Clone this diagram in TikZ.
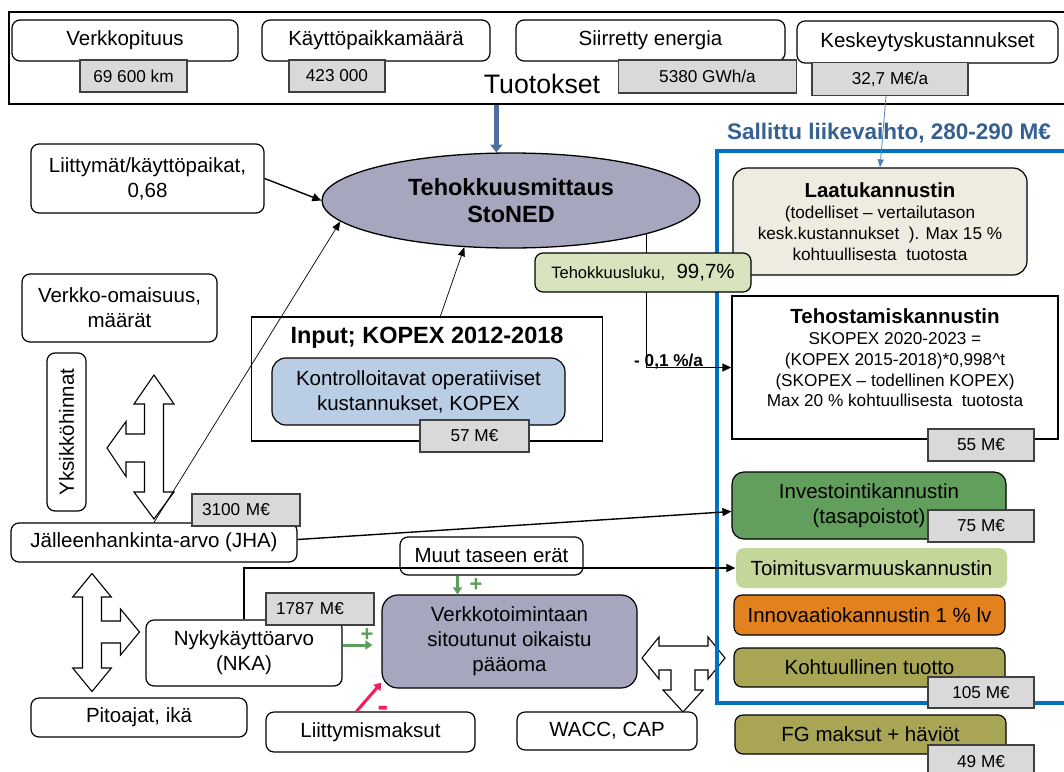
\documentclass[tikz,border=0pt]{standalone}
\usepackage{fontspec}
\setmainfont{Liberation Sans}
\usetikzlibrary{shapes.geometric,arrows.meta}

\definecolor{valgray}{RGB}{217,217,217}
\definecolor{ellgray}{RGB}{166,166,191}
\definecolor{laatubg}{RGB}{238,236,225}
\definecolor{lukubg}{RGB}{215,228,189}
\definecolor{kopexbg}{RGB}{185,205,229}
\definecolor{investbg}{RGB}{98,158,92}
\definecolor{toimbg}{RGB}{196,215,155}
\definecolor{innobg}{RGB}{226,130,30}
\definecolor{olivebg}{RGB}{168,166,84}
\definecolor{framebl}{RGB}{0,112,192}
\definecolor{titlebl}{RGB}{54,96,146}
\definecolor{arrowbl}{RGB}{79,109,160}
\definecolor{thinbl}{RGB}{79,129,189}
\definecolor{plusgr}{RGB}{90,160,90}
\definecolor{minusrd}{RGB}{240,30,90}

\newcommand{\boxfont}{\fontsize{20.5}{25}\selectfont}
\newcommand{\subfont}{\fontsize{17.2}{20.8}\selectfont}
\newcommand{\valfont}{\fontsize{17.2}{21}\selectfont}

\tikzset{
  rbox/.style={draw, line width=1.2pt, rounded corners=8pt, fill=white, align=center, inner sep=0pt},
  sqbox/.style={draw, line width=1.4pt, fill=white, inner sep=0pt},
  valbox/.style={draw=black!75, line width=1.2pt, fill=valgray, font=\valfont, inner sep=0pt},
  valleft/.style={valbox, align=left, inner xsep=10pt, text width=#1},
  hollow/.style={draw, line width=1.1pt, fill=white, line join=miter},
  conn/.style={line width=1.4pt, -{Triangle[length=9pt,width=8pt]}},
  thinconn/.style={line width=0.7pt, -{Triangle[length=9pt,width=7pt]}},
  grnarrow/.style={draw=plusgr, line width=3pt, -{Triangle[length=7pt,width=9pt]}},
  sign/.style={font=\fontsize{22}{22}\selectfont\bfseries, inner sep=0pt}
}

\begin{document}
\begin{tikzpicture}[x=1pt, y=-1pt, font=\boxfont]
\useasboundingbox (0,0) rectangle (1064,771);
\clip (0,0) rectangle (1064,771);
\fill[white] (0,0) rectangle (1064,771);

%% Tuotokset
\node[sqbox, line width=1.5pt, minimum width=1062, minimum height=92] (outframe) at (540,58) {};
\node[font=\fontsize{26.7}{30}\selectfont] (tuotokset) at (542,84) {Tuotokset};

\node[rbox, minimum width=226, minimum height=41] (verkkop) at (125,40.5) {Verkkopituus};
\node[valbox, minimum width=107, minimum height=32] (verkkopval) at (133.5,76) {69 600 km};
\node[rbox, minimum width=228, minimum height=41] (kayttop) at (376,40.5) {Käyttöpaikkamäärä};
\node[valbox, minimum width=96, minimum height=32] (kayttopval) at (337,76) {423 000};
\node[rbox, minimum width=269, minimum height=41] (energia) at (650.5,40.5) {Siirretty energia};
\node[valbox, minimum width=178, minimum height=33] (energiaval) at (707.5,76.5) {5380 GWh/a};
\node[rbox, minimum width=261, minimum height=42] (keskeytys) at (927.5,42) {Keskeytyskustannukset};
\node[valbox, minimum width=156, minimum height=33] (keskeytysval) at (890,79) {32,7 M€/a};

%% vasen puoli
\node[rbox, minimum width=233, minimum height=69] (liittymat) at (147.5,178.5) {Liittymät/käyttöpaikat,\\0,68};
\node[rbox, minimum width=195, minimum height=68] (omaisuus) at (119.5,308) {Verkko-omaisuus,\\määrät};
\node[rbox, rotate=90, minimum width=158, minimum height=39] (yksikko) at (66.5,432) {Yksikköhinnat};

\draw[hollow] (154,375) -- (174,404) -- (163.5,404) -- (163.5,492) -- (174,492) -- (154,519) -- (134,492) -- (144.5,492) -- (144.5,462) -- (126,462) -- (126,476.5) -- (107,448) -- (126,421.5) -- (126,434) -- (144.5,434) -- (144.5,404) -- (134,404) -- cycle; %nuoli ylos-alas-vasen
\draw[hollow] (92,573.5) -- (111.3,597) -- (101.5,597) -- (101.5,621) -- (120.5,621) -- (120.5,609) -- (139.5,632) -- (120.5,655) -- (120.5,643) -- (101.5,643) -- (101.5,668) -- (111.3,668) -- (92,691.5) -- (72.7,668) -- (82.5,668) -- (82.5,597) -- (72.7,597) -- cycle; %nuoli ylos-alas-oikea

%% StoNED
\node[ellipse, draw, line width=1.3pt, fill=ellgray, minimum width=378, minimum height=95, font=\fontsize{23.5}{27}\selectfont\bfseries, align=center] (stoned) at (511,200.5) {Tehokkuusmittaus\\StoNED};
\draw[arrowbl, line width=5pt, -{Triangle[length=8pt,width=12pt]}] (stoned.107 |- outframe.south) -- (stoned.107);

%% Input
\node[sqbox, minimum width=351, minimum height=124] (inputbox) at (427,379) {};
\node[font=\fontsize{23.5}{27}\selectfont\bfseries] (inputtitle) at (427,338) {Input; KOPEX 2012-2018};
\node[rbox, rounded corners=14pt, fill=kopexbg, minimum width=293, minimum height=67] (kopex) at (418.5,391.5) {Kontrolloitavat operatiiviset\\kustannukset, KOPEX};
\node[valbox, minimum width=109, minimum height=32] (kopexval) at (474.5,436) {57 M€};

\node[rbox, minimum width=286, minimum height=39] (jha) at (154,542.5) {Jälleenhankinta-arvo (JHA)};
\node[valleft=88pt, minimum height=32] (jhaval) at (246,510) {3100 M€};

\draw[conn] (liittymat.east) -- (stoned.west);
\draw[thinconn] (jha.north) -- (stoned.187);
\draw[thinconn] (inputbox.78) -- (stoned.225);

%% sallittu liikevaihto
\draw[hollow] (642,658) -- (659,637) -- (659,646) -- (708,646) -- (708,637) -- (725,658) -- (708,679) -- (708,670) -- (695,670) -- (695,690) -- (703,690) -- (683,712) -- (663,690) -- (671,690) -- (671,670) -- (659,670) -- (659,679) -- cycle; %nuoli vasen-oikea-alas
\draw[framebl, line width=4pt] (717,151) rectangle (1080,703);
\node[text=titlebl, font=\fontsize{22.5}{26}\selectfont\bfseries] (sallittu) at (889,133) {Sallittu liikevaihto, 280-290 M€};

\node[rbox, rounded corners=14pt, fill=laatubg, minimum width=294, minimum height=107, font=\subfont] (laatu) at (880,221.5) {{\fontsize{20.4}{24}\selectfont\bfseries Laatukannustin}\\(todelliset – vertailutason\\kesk.kustannukset\ \ ). Max 15 \%\\kohtuullisesta\ \ tuotosta};
\draw[thinbl, line width=0.8pt, -{Triangle[length=8pt,width=6pt]}] ([xshift=-4pt]keskeytysval.south) -- (laatu.north);

\node[sqbox, minimum width=326, minimum height=143] (tehost) at (895,367.5) {};
\node[font=\subfont, align=center] (tehosttxt) at (895,358) {{\fontsize{20.5}{24}\selectfont\bfseries Tehostamiskannustin}\\SKOPEX 2020-2023 =\\(KOPEX 2015-2018)*0,998\textasciicircum t\\(SKOPEX – todellinen KOPEX)\\Max 20 \% kohtuullisesta\ \ tuotosta};
\node[valbox, minimum width=106, minimum height=32] (tehostval) at (981,445) {55 M€};

\draw[conn] (stoned.-14) |- (tehost.west);
\node[font=\valfont\bfseries, anchor=base west, inner sep=0pt] (vaatimus) at (634,366) {- 0,1 \%/a};
\node[rbox, fill=lukubg, minimum width=216, minimum height=39] (luku) at (643,272.5) {{\fontsize{16.5}{20}\selectfont Tehokkuusluku,}\ \ 99,7\%};

\node[rbox, rounded corners=12pt, fill=investbg, minimum width=274, minimum height=67] (invest) at (869,505.5) {Investointikannustin\\(tasapoistot)};
\node[valbox, minimum width=106, minimum height=32] (investval) at (981,526) {75 M€};
\node[rbox, draw=none, fill=toimbg, minimum width=271, minimum height=40] (toimitus) at (871.5,568) {Toimitusvarmuuskannustin};
\node[rbox, fill=innobg, minimum width=271, minimum height=40] (innovaatio) at (869.5,615) {Innovaatiokannustin 1 \% lv};
\node[rbox, fill=olivebg, minimum width=271, minimum height=39] (tuotto) at (869.5,667.5) {Kohtuullinen tuotto};
\node[valbox, minimum width=106, minimum height=31] (tuottoval) at (981,692.5) {105 M€};
\node[rbox, fill=olivebg, minimum width=271, minimum height=39] (fg) at (870.5,734.5) {FG maksut + häviöt};
\node[valbox, minimum width=106, minimum height=34] (fgval) at (981,762) {49 M€};

\draw[conn] ([yshift=3pt]jha.east) -- ([yshift=-6pt]invest.west);

%% paaoma
\node[rbox, minimum width=183, minimum height=38] (muut) at (491.5,556) {Muut taseen erät};
\node[rbox, minimum width=196, minimum height=66] (nka) at (244,653) {Nykykäyttöarvo\\(NKA)};
\node[valleft=88pt, minimum height=32] (nkaval) at (320,609) {1787 M€};
\draw[conn] (nka.north) |- (toimitus.west);

\node[rbox, rounded corners=16pt, fill=ellgray, minimum width=255, minimum height=93] (paaoma) at (509.5,641.5) {Verkkotoimintaan\\sitoutunut oikaistu\\pääoma};
\node[rbox, minimum width=216, minimum height=39] (pitoajat) at (139,717.5) {Pitoajat, ikä};
\node[rbox, minimum width=209, minimum height=40] (lmaksut) at (370.5,732) {Liittymismaksut};
\node[rbox, minimum width=180, minimum height=38] (wacc) at (607,731) {WACC, CAP};

\draw[grnarrow] ([yshift=8pt]nka.east) -- ([xshift=-9pt,yshift=-3.5pt]paaoma.west);
\node[sign, text=plusgr] (plus1) at (367,635) {+};
\draw[grnarrow] ([xshift=-34pt]muut.south) -- ([xshift=-52pt]paaoma.north);
\node[sign, text=plusgr] (plus2) at (476,585) {+};
\draw[minusrd, line width=3pt, -{Triangle[length=7pt,width=9pt]}] ([xshift=-14pt]lmaksut.north) -- ([yshift=6pt]paaoma.south west);
\node[sign, text=minusrd, font=\fontsize{32}{32}\selectfont\bfseries] (minus) at (383,711) {-};

\end{tikzpicture}
\end{document}
